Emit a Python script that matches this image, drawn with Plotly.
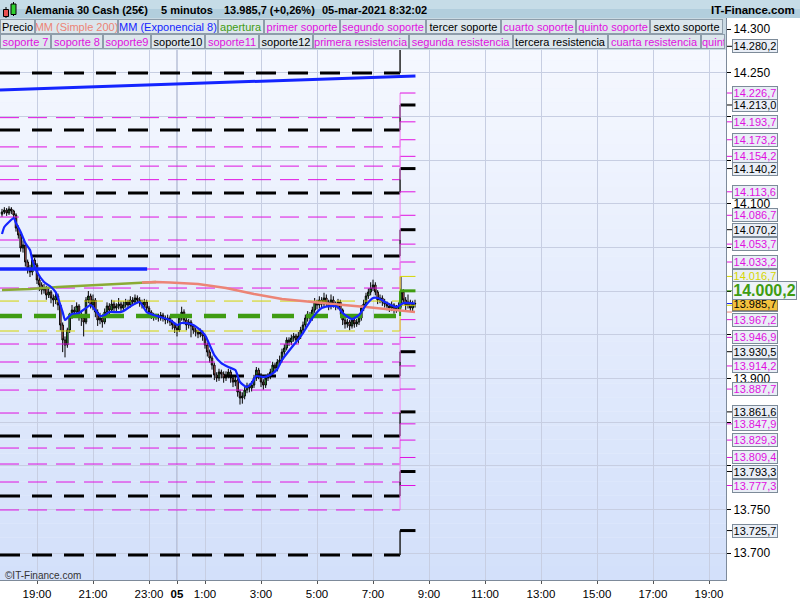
import plotly.graph_objects as go
from datetime import datetime, timedelta

# ---------------- DATA ----------------
open_ = [14088.0, 14090.5, 14092.7, 14089.3, 14093.9, 14091.6, 14087.0, 14072.1, 14064.1, 14049.2, 14052.7, 14033.2,
 14026.3, 14021.7, 14035.5, 14029.8, 14012.6, 14006.9, 14001.1, 14003.4, 13995.4, 13998.8, 13992.0, 13989.7,
 13994.3, 13984.0, 13961.1, 13943.9, 13938.2, 13955.3, 13972.5, 13978.2, 13975.9, 13982.8, 13971.4, 13969.1,
 13964.5, 13989.7, 13994.3, 13984.0, 13989.7, 13975.9, 13966.8, 13969.1, 13964.5, 13975.9, 13982.8, 13978.2,
 13985.1, 13980.5, 13982.8, 13985.1, 13980.5, 13984.0, 13987.4, 13984.0, 13989.7, 13987.4, 13992.0, 13989.7,
 13986.2, 13984.0, 13987.4, 13980.5, 13975.9, 13972.5, 13970.2, 13971.4, 13969.1, 13972.5, 13969.1, 13966.8,
 13969.1, 13964.5, 13961.1, 13957.6, 13955.3, 13969.1, 13975.9, 13966.8, 13961.1, 13964.5, 13959.9, 13955.3,
 13953.0, 13950.7, 13953.0, 13948.5, 13938.2, 13930.1, 13923.3, 13915.2, 13903.8, 13900.4, 13907.2, 13904.9,
 13900.4, 13903.8, 13907.2, 13900.4, 13895.8, 13898.1, 13884.3, 13877.5, 13879.7, 13886.6, 13891.2, 13888.9,
 13892.3, 13900.4, 13909.5, 13903.8, 13895.8, 13892.3, 13900.4, 13902.6, 13907.2, 13915.2, 13911.8, 13918.7,
 13921.0, 13930.1, 13934.7, 13943.9, 13941.6, 13946.2, 13948.5, 13943.9, 13948.5, 13955.3, 13961.1, 13969.1,
 13972.5, 13969.1, 13978.2, 13987.4, 13984.0, 13989.7, 13985.1, 13992.0, 13987.4, 13982.8, 13989.7, 13985.1,
 13982.8, 13987.4, 13978.2, 13966.8, 13962.2, 13964.5, 13959.9, 13966.8, 13962.2, 13964.5, 13969.1, 13980.5,
 13985.1, 13994.3, 13998.8, 14003.4, 14006.9, 13998.8, 13989.7, 13992.0, 13987.4, 13985.1, 13982.8, 13980.5,
 13984.0, 13978.2, 13980.5, 13982.8, 13998.8, 13989.7, 13984.0, 13987.4, 13980.5, 13985.1]

high = [14094, 14096, 14095, 14097, 14096, 14093, 14089, 14075, 14066, 14058, 14055, 14036,
 14030, 14040, 14038, 14032, 14016, 14010, 14008, 14006, 14004, 14001, 13996, 13998,
 13997, 13986, 13964, 13948, 13958, 13975, 13984, 13982, 13987, 13985, 13976, 13972,
 13993, 14000, 13997, 13996, 13992, 13979, 13975, 13972, 13980, 13987, 13986, 13990,
 13989, 13986, 13992, 13988, 13988, 13991, 13990, 13994, 13993, 13996, 13995, 13993,
 13990, 13991, 13990, 13983, 13978, 13975, 13974, 13974, 13976, 13975, 13972, 13973,
 13972, 13967, 13964, 13961, 13972, 13982, 13979, 13970, 13968, 13967, 13962, 13958,
 13956, 13957, 13955, 13950, 13941, 13933, 13926, 13918, 13907, 13911, 13910, 13908,
 13908, 13911, 13910, 13903, 13902, 13900, 13887, 13884, 13890, 13895, 13894, 13897,
 13904, 13913, 13912, 13906, 13899, 13904, 13906, 13911, 13919, 13918, 13922, 13926,
 13934, 13939, 13947, 13947, 13950, 13952, 13951, 13953, 13959, 13965, 13973, 13977,
 13976, 13982, 13992, 13990, 13994, 13993, 13998, 13996, 13990, 13996, 13994, 13988,
 13991, 13990, 13980, 13970, 13968, 13967, 13970, 13970, 13968, 13972, 13984, 13990,
 13998, 14003, 14010, 14013, 14010, 14001, 13996, 13995, 13991, 13988, 13986, 13988,
 13986, 13984, 13987, 14016, 14002, 13993, 13996, 13990, 13989, 13990]

low = [14085, 14088, 14086, 14087, 14088, 14083, 14068, 14060, 14045, 14044, 14028, 14020,
 14016, 14018, 14024, 14008, 14000, 13996, 13997, 13990, 13992, 13986, 13982, 13985,
 13978, 13955, 13930, 13924, 13935, 13952, 13968, 13970, 13972, 13966, 13960, 13948,
 13962, 13986, 13980, 13978, 13970, 13960, 13962, 13958, 13962, 13972, 13973, 13975,
 13976, 13977, 13979, 13976, 13977, 13981, 13980, 13981, 13983, 13985, 13986, 13982,
 13980, 13981, 13976, 13971, 13968, 13966, 13967, 13965, 13966, 13965, 13962, 13963,
 13960, 13956, 13952, 13948, 13953, 13966, 13962, 13955, 13957, 13947, 13951, 13948,
 13946, 13947, 13943, 13934, 13925, 13918, 13910, 13898, 13896, 13897, 13900, 13895,
 13897, 13900, 13895, 13890, 13891, 13879, 13870, 13871, 13876, 13883, 13884, 13885,
 13889, 13897, 13899, 13890, 13887, 13889, 13897, 13899, 13904, 13907, 13908, 13915,
 13918, 13927, 13932, 13937, 13938, 13942, 13939, 13940, 13945, 13952, 13958, 13965,
 13964, 13966, 13975, 13979, 13980, 13981, 13982, 13983, 13978, 13979, 13981, 13978,
 13979, 13973, 13961, 13957, 13958, 13955, 13957, 13958, 13959, 13961, 13966, 13977,
 13982, 13991, 13995, 14000, 13995, 13985, 13986, 13983, 13981, 13978, 13976, 13977,
 13974, 13975, 13977, 13980, 13985, 13978, 13980, 13976, 13977, 13981]

close = [14090.5, 14092.7, 14089.3, 14093.9, 14091.6, 14087.0, 14072.1, 14064.1, 14049.2, 14052.7, 14033.2, 14026.3,
 14021.7, 14035.5, 14029.8, 14012.6, 14006.9, 14001.1, 14003.4, 13995.4, 13998.8, 13992.0, 13989.7, 13994.3,
 13984.0, 13961.1, 13943.9, 13938.2, 13955.3, 13972.5, 13978.2, 13975.9, 13982.8, 13971.4, 13969.1, 13964.5,
 13989.7, 13994.3, 13984.0, 13989.7, 13975.9, 13966.8, 13969.1, 13964.5, 13975.9, 13982.8, 13978.2, 13985.1,
 13980.5, 13982.8, 13985.1, 13980.5, 13984.0, 13987.4, 13984.0, 13989.7, 13987.4, 13992.0, 13989.7, 13986.2,
 13984.0, 13987.4, 13980.5, 13975.9, 13972.5, 13970.2, 13971.4, 13969.1, 13972.5, 13969.1, 13966.8, 13969.1,
 13964.5, 13961.1, 13957.6, 13955.3, 13969.1, 13975.9, 13966.8, 13961.1, 13964.5, 13959.9, 13955.3, 13953.0,
 13950.7, 13953.0, 13948.5, 13938.2, 13930.1, 13923.3, 13915.2, 13903.8, 13900.4, 13907.2, 13904.9, 13900.4,
 13903.8, 13907.2, 13900.4, 13895.8, 13898.1, 13884.3, 13877.5, 13879.7, 13886.6, 13891.2, 13888.9, 13892.3,
 13900.4, 13909.5, 13903.8, 13895.8, 13892.3, 13900.4, 13902.6, 13907.2, 13915.2, 13911.8, 13918.7, 13921.0,
 13930.1, 13934.7, 13943.9, 13941.6, 13946.2, 13948.5, 13943.9, 13948.5, 13955.3, 13961.1, 13969.1, 13972.5,
 13969.1, 13978.2, 13987.4, 13984.0, 13989.7, 13985.1, 13992.0, 13987.4, 13982.8, 13989.7, 13985.1, 13982.8,
 13987.4, 13978.2, 13966.8, 13962.2, 13964.5, 13959.9, 13966.8, 13962.2, 13964.5, 13969.1, 13980.5, 13985.1,
 13994.3, 13998.8, 14003.4, 14006.9, 13998.8, 13989.7, 13992.0, 13987.4, 13985.1, 13982.8, 13980.5, 13984.0,
 13978.2, 13980.5, 13982.8, 13998.8, 13989.7, 13984.0, 13987.4, 13980.5, 13985.1, 13985.7]

# EMA 8 read at candle indices
ema_idx = [0,1,3,5,6,8,10,12,13,15,18,21,23,24,26,27,28,30,33,36,38,40,42,44,46,51,54,56,59,62,65,68,72,75,77,81,84,87,89,91,
           94,97,100,102,105,107,109,112,115,118,120,125,129,133,137,141,144,146,150,153,156,159,161,165,169,172,177]
ema_val = [14065.3,14073.3,14079.0,14083.6,14077.8,14067.5,14054.9,14046.9,14035.5,14021.7,14010.3,14004.6,13998.8,13992.0,
           13975.9,13966.8,13969.1,13973.7,13974.8,13980.5,13984.0,13978.2,13971.4,13972.5,13975.9,13975.9,13980.5,13984.0,
           13987.4,13975.9,13972.5,13970.2,13966.8,13961.1,13963.4,13962.2,13957.6,13949.6,13938.2,13926.7,13917.5,13913.0,
           13909.5,13895.8,13890.0,13894.6,13902.6,13901.5,13903.8,13910.7,13921.0,13938.2,13951.9,13969.1,13980.5,13982.8,
           13981.6,13974.8,13967.9,13972.5,13984.0,13992.0,13992.0,13986.2,13981.6,13986.2,13985.7]

# SMA 200 read at candle indices (rising part, falling part)
sma_up_idx = [0, 12, 24, 36, 48, 60, 66]
sma_up_val = [14001.1, 14002.3, 14004.6, 14006.3, 14008.0, 14009.7, 14010.3]
sma_dn_idx = [60, 66, 72, 84, 96, 108, 120, 132, 144, 156, 168, 177]
sma_dn_val = [14009.7, 14010.3, 14009.7, 14008.0, 14003.4, 13996.6, 13990.9, 13987.4, 13984.6, 13981.7, 13978.2, 13975.9]

# Support / resistance levels: previous session value, new value (from 8:00)
level_names = ["apertura", "primer soporte", "segundo soporte", "tercer soporte", "cuarto soporte", "quinto soporte",
               "sexto soporte", "soporte 7", "soporte 8", "soporte9", "soporte10", "soporte11", "soporte12",
               "primera resistencia", "segunda resistencia", "tercera resistencia", "cuarta resistencia",
               "quinta resistencia", "sexta resistencia", "resistencia 7", "resistencia 8", "resistencia 9",
               "resistencia 10", "resistencia 11", "resistencia 12"]
level_prev = [13971.4, 13939.3, 13918.7, 13902.7, 13886.6, 13860.3, 13833.9, 13820.2, 13801.9, 13781.3, 13765.2,
              13749.3, 13697.7, 14003.4, 14025.2, 14040.1, 14058.4, 14084.7, 14112.2, 14127.5, 14143.0, 14165.0,
              14184.3, 14198.5, 14249.6]
level_new = [14000.2, 13967.2, 13946.9, 13930.5, 13914.2, 13887.7, 13861.6, 13847.9, 13829.3, 13809.4, 13793.3,
             13777.3, 13725.7, 14033.2, 14053.7, 14070.2, 14086.7, 14113.6, 14140.2, 14154.2, 14173.2, 14193.7,
             14213.0, 14226.7, 14280.2]
level_group = ["apertura", "sec", "sec", "main", "sec", "sec", "main", "sec", "sec", "sec", "main", "sec", "main",
               "sec", "sec", "main", "sec", "sec", "main", "sec", "sec", "sec", "main", "sec", "main"]
pivot_prev = [13988.5, 13954.2]
pivot_new = [14016.7, 13983.7]

# drawn lines
trend_val = [14230.2, 14246.2]
hline_val = 14025.2

title_parts = ["Alemania 30 Cash (25€)", "5 minutos", "13.985,7 (+0,26%)", "05-mar-2021 8:32:02"]
legend_first = ["Precio", "MM (Simple 200)", "MM (Exponencial 8)"]
x_tick_times = ["2021-03-04 19:00", "2021-03-04 21:00", "2021-03-04 23:00", "2021-03-05 00:00", "2021-03-05 01:00",
                "2021-03-05 03:00", "2021-03-05 05:00", "2021-03-05 07:00", "2021-03-05 09:00", "2021-03-05 11:00",
                "2021-03-05 13:00", "2021-03-05 15:00", "2021-03-05 17:00", "2021-03-05 19:00"]
x_tick_text = ["19:00", "21:00", "23:00", "<b>05</b>", "1:00", "3:00", "5:00", "7:00", "9:00", "11:00", "13:00",
               "15:00", "17:00", "19:00"]
y_tick_vals = [13700, 13750, 13800, 13850, 13900, 13950, 14000, 14050, 14100, 14150, 14200, 14250, 14300]
y_tick_text = ["13.700", "13.750", "", "", "13.900", "", "", "", "14.100", "", "", "14.250", "14.300"]

# ---------------- GEOMETRY / STYLE ----------------
FONT = "Liberation Sans, Arial, sans-serif"
W, H = 800, 600
ML, MR, MT, MB = 0, 74, 18, 20
PW, PH = W - ML - MR, H - MT - MB

def px(x):
    return (x - ML) / PW

def py(y):
    return (H - MB - y) / PH

t0 = datetime(2021, 3, 4, 17, 45)
times = [t0 + timedelta(minutes=5 * i) for i in range(len(close))]
XMIN = datetime(2021, 3, 4, 17, 40, 43)
XMAX = datetime(2021, 3, 5, 19, 36, 25)
YMIN, YMAX = 13669.1, 14312.6
T_SW = datetime(2021, 3, 5, 7, 58)
T_END = datetime(2021, 3, 5, 8, 31)

MAG = "#e010e0"
BLK = "#000000"
YEL = "#d6d600"
GRN = "#3f9c12"
SAL = "#ec8476"
OLV = "#8aab35"
BLU = "#1424ff"

style = {
    "main": dict(color=BLK, width=3, dash="20px,12px", conn="#222222", cw=1.5, label=BLK),
    "sec": dict(color=MAG, width=1, dash="19px,9px", conn="#f07cf0", cw=1, label=MAG),
    "apertura": dict(color=GRN, width=4.5, dash="22px,12px", conn=GRN, cw=2, label=GRN),
    "pivot": dict(color=YEL, width=1, dash="19px,9px", conn=YEL, cw=1, label=YEL),
}

fig = go.Figure()
shapes = []
annotations = []

# plot background gradient
NB = 40
for k in range(NB):
    f = k / (NB - 1)
    r = round(247 + (211 - 247) * f)
    g = round(249 + (224 - 249) * f)
    b = round(255 + (250 - 255) * f)
    shapes.append(dict(type="rect", xref="paper", yref="paper", x0=0, x1=1,
                       y0=1 - (k + 1) / NB, y1=1 - k / NB, fillcolor=f"rgb({r},{g},{b})",
                       line=dict(width=0), layer="below"))

# midnight darker gridline
shapes.append(dict(type="line", xref="x", yref="paper", x0="2021-03-05 00:00", x1="2021-03-05 00:00",
                   y0=0, y1=1, line=dict(color="#9aa4c2", width=1), layer="between"))

# candles
fig.add_trace(go.Candlestick(
    x=times, open=open_, high=high, low=low, close=close,
    increasing=dict(fillcolor="#3fcf3f", line=dict(color="#000000", width=1)),
    decreasing=dict(fillcolor="#f07a7a", line=dict(color="#000000", width=1)),
    whiskerwidth=0, showlegend=False, hoverinfo="skip"))

# level lines
def add_level(prev, new, st):
    s = style[st]
    fig.add_trace(go.Scatter(x=[XMIN, T_SW], y=[prev, prev], mode="lines",
                             line=dict(color=s["color"], width=s["width"], dash=s["dash"]),
                             showlegend=False, hoverinfo="skip"))

def add_conn(prev, new, st):
    s = style[st]
    fig.add_trace(go.Scatter(x=[T_SW, T_SW], y=[prev, new], mode="lines",
                             line=dict(color=s["conn"], width=s["cw"]), showlegend=False, hoverinfo="skip"))
    fig.add_trace(go.Scatter(x=[T_SW, T_END], y=[new, new], mode="lines",
                             line=dict(color=s["color"], width=min(s["width"], 3)),
                             showlegend=False, hoverinfo="skip"))

order = [i for i in range(len(level_prev)) if level_group[i] == "main"] + \
        [i for i in range(len(level_prev)) if level_group[i] == "sec"]
for i in order:
    add_level(level_prev[i], level_new[i], level_group[i])
for i in range(len(pivot_prev)):
    add_level(pivot_prev[i], pivot_new[i], "pivot")
ia = level_group.index("apertura")
add_level(level_prev[ia], level_new[ia], "apertura")
for i in order:
    add_conn(level_prev[i], level_new[i], level_group[i])
for i in range(len(pivot_prev)):
    add_conn(pivot_prev[i], pivot_new[i], "pivot")
add_conn(level_prev[ia], level_new[ia], "apertura")

# SMA 200
fig.add_trace(go.Scatter(x=[times[i] for i in sma_up_idx], y=sma_up_val, mode="lines",
                         line=dict(color=OLV, width=2.5), showlegend=False, hoverinfo="skip"))
fig.add_trace(go.Scatter(x=[times[i] for i in sma_dn_idx], y=sma_dn_val, mode="lines",
                         line=dict(color=SAL, width=2.5), showlegend=False, hoverinfo="skip"))
# EMA 8
fig.add_trace(go.Scatter(x=[times[i] for i in ema_idx], y=ema_val, mode="lines",
                         line=dict(color=BLU, width=2.2, shape="spline", smoothing=0.6),
                         showlegend=False, hoverinfo="skip"))
# drawn blue lines
fig.add_trace(go.Scatter(x=[XMIN, T_END], y=trend_val, mode="lines", line=dict(color=BLU, width=3),
                         showlegend=False, hoverinfo="skip"))
fig.add_trace(go.Scatter(x=[XMIN, datetime(2021, 3, 4, 22, 56)], y=[hline_val, hline_val], mode="lines",
                         line=dict(color=BLU, width=3.5), showlegend=False, hoverinfo="skip"))

# ---------- header / title bar ----------
shapes.append(dict(type="rect", xref="paper", yref="paper", x0=px(0), x1=px(800), y0=py(18), y1=py(9),
                   fillcolor="#b2cedd", line=dict(width=0)))
shapes.append(dict(type="rect", xref="paper", yref="paper", x0=px(0), x1=px(800), y0=py(9), y1=py(0),
                   fillcolor="#c6dce7", line=dict(width=0)))
shapes.append(dict(type="rect", xref="paper", yref="paper", x0=px(0), x1=px(726), y0=py(50), y1=py(18),
                   fillcolor="#c9d9e3", line=dict(width=0)))
# icon
shapes.append(dict(type="line", xref="paper", yref="paper", x0=px(6), x1=px(6), y0=py(18), y1=py(7),
                   line=dict(color="#000", width=1)))
shapes.append(dict(type="rect", xref="paper", yref="paper", x0=px(3.5), x1=px(8.5), y0=py(16.5), y1=py(9.5),
                   fillcolor="#e85050", line=dict(color="#000", width=1)))
shapes.append(dict(type="line", xref="paper", yref="paper", x0=px(13.5), x1=px(13.5), y0=py(16), y1=py(2),
                   line=dict(color="#000", width=1)))
shapes.append(dict(type="rect", xref="paper", yref="paper", x0=px(11), x1=px(16), y0=py(14.5), y1=py(4),
                   fillcolor="#30d030", line=dict(color="#000", width=1)))

title_x = [23, 159, 222, 320]
for txt, xx in zip(title_parts, title_x):
    annotations.append(dict(xref="paper", yref="paper", x=px(xx), y=py(10), xanchor="left", yanchor="middle",
                            text=f"<b>{txt}</b>", showarrow=False, font=dict(family=FONT, size=11, color="#000")))
annotations.append(dict(xref="paper", yref="paper", x=px(797), y=py(10), xanchor="right", yanchor="middle",
                        text="<b>IT-Finance.com</b>", showarrow=False, font=dict(family=FONT, size=11.5, color="#000")))

# legend boxes
legend_labels = legend_first + level_names[:13] + level_names[13:18]
legend_colors = [BLK, SAL, BLU] + [style[g]["label"] for g in level_group[:13]] + \
                [style[g]["label"] for g in level_group[13:18]]
box_edges = [(0, 35, 0), (35, 118, 0), (118, 218, 0), (218, 264, 0), (264, 340, 0), (340, 426, 0),
             (426, 501, 0), (501, 576, 0), (576, 650, 0), (650, 723, 0),
             (0, 51, 1), (51, 103, 1), (103, 151, 1), (151, 205, 1), (205, 259, 1), (259, 313, 1),
             (313, 409, 1), (409, 513, 1), (513, 608, 1), (608, 701, 1), (701, 725, 1)]
for (x0, x1, row), txt, col in zip(box_edges, legend_labels, legend_colors):
    yc = 26.5 if row == 0 else 41.5
    annotations.append(dict(xref="paper", yref="paper", x=px(x0), y=py(yc), xanchor="left", yanchor="middle",
                            text=txt, showarrow=False, font=dict(family=FONT, size=11, color=col),
                            bgcolor="#dce6ec", bordercolor="#8e9daa", borderwidth=1, borderpad=0,
                            width=x1 - x0 - 2, height=13, align="center" if x1 - x0 > 30 else "left"))

# ---------- right-hand price labels ----------
def fmt(v):
    s = f"{v:,.1f}"
    return s.replace(",", "X").replace(".", ",").replace("X", ".")

def add_label(v, color, bg="#e9eef6", border="#7d8b99", size=11, width=44, height=12, bold=False, tick=None):
    txt = fmt(v)
    if bold:
        txt = f"<b>{txt}</b>"
    shapes.append(dict(type="line", xref="paper", yref="y", x0=px(727), x1=px(732), y0=v, y1=v,
                       line=dict(color=tick or color, width=1)))
    annotations.append(dict(xref="paper", yref="y", x=px(732), y=v, xanchor="left", yanchor="middle",
                            text=txt, showarrow=False, font=dict(family=FONT, size=size, color=color),
                            bgcolor=bg, bordercolor=border, borderwidth=1, borderpad=0,
                            width=width, height=height, align="center"))

# hidden indicator ticks
shapes.append(dict(type="line", xref="paper", yref="y", x0=px(727), x1=px(732), y0=sma_dn_val[-1],
                   y1=sma_dn_val[-1], line=dict(color=SAL, width=1)))
for i, v in enumerate(level_new):
    if level_group[i] != "apertura":
        add_label(v, style[level_group[i]]["label"])
for v in pivot_new:
    add_label(v, YEL)
add_label(close[-1], BLK, bg="#f3c23e", border="#8f7f55", tick=BLU)
add_label(level_new[ia], GRN, bg="#eef3f9", size=16, width=63, height=17, bold=True)

annotations.append(dict(xref="paper", yref="paper", x=px(3), y=py(575), xanchor="left", yanchor="middle",
                        text="©IT-Finance.com", showarrow=False, font=dict(family=FONT, size=10, color="#333")))

fig.update_layout(
    width=W, height=H, margin=dict(l=ML, r=MR, t=MT, b=MB, pad=0),
    paper_bgcolor="#ffffff", plot_bgcolor="#eef3fd",
    showlegend=False, boxgap=0.1,
    shapes=shapes, annotations=annotations,
    font=dict(family=FONT, size=12, color="#000"),
    xaxis=dict(type="date", range=[XMIN, XMAX], rangeslider=dict(visible=False),
               tickvals=x_tick_times, ticktext=x_tick_text, showgrid=True, gridcolor="#c7cee2", gridwidth=1,
               ticks="outside", ticklen=3, tickcolor="#555", showline=True, linecolor="#7d8a9a",
               tickfont=dict(family=FONT, size=11.5, color="#000"), zeroline=False, fixedrange=True),
    yaxis=dict(side="right", range=[YMIN, YMAX], tickvals=y_tick_vals, ticktext=y_tick_text,
               showgrid=True, gridcolor="#c7cee2", gridwidth=1, ticks="outside", ticklen=4, tickcolor="#000",
               showline=True, linecolor="#7d8a9a", zeroline=False,
               tickfont=dict(family=FONT, size=12, color="#000"), fixedrange=True),
)

fig.write_html("out.html", config={"displayModeBar": False},
               post_script="document.body.style.margin='0';document.body.style.padding='0';")
